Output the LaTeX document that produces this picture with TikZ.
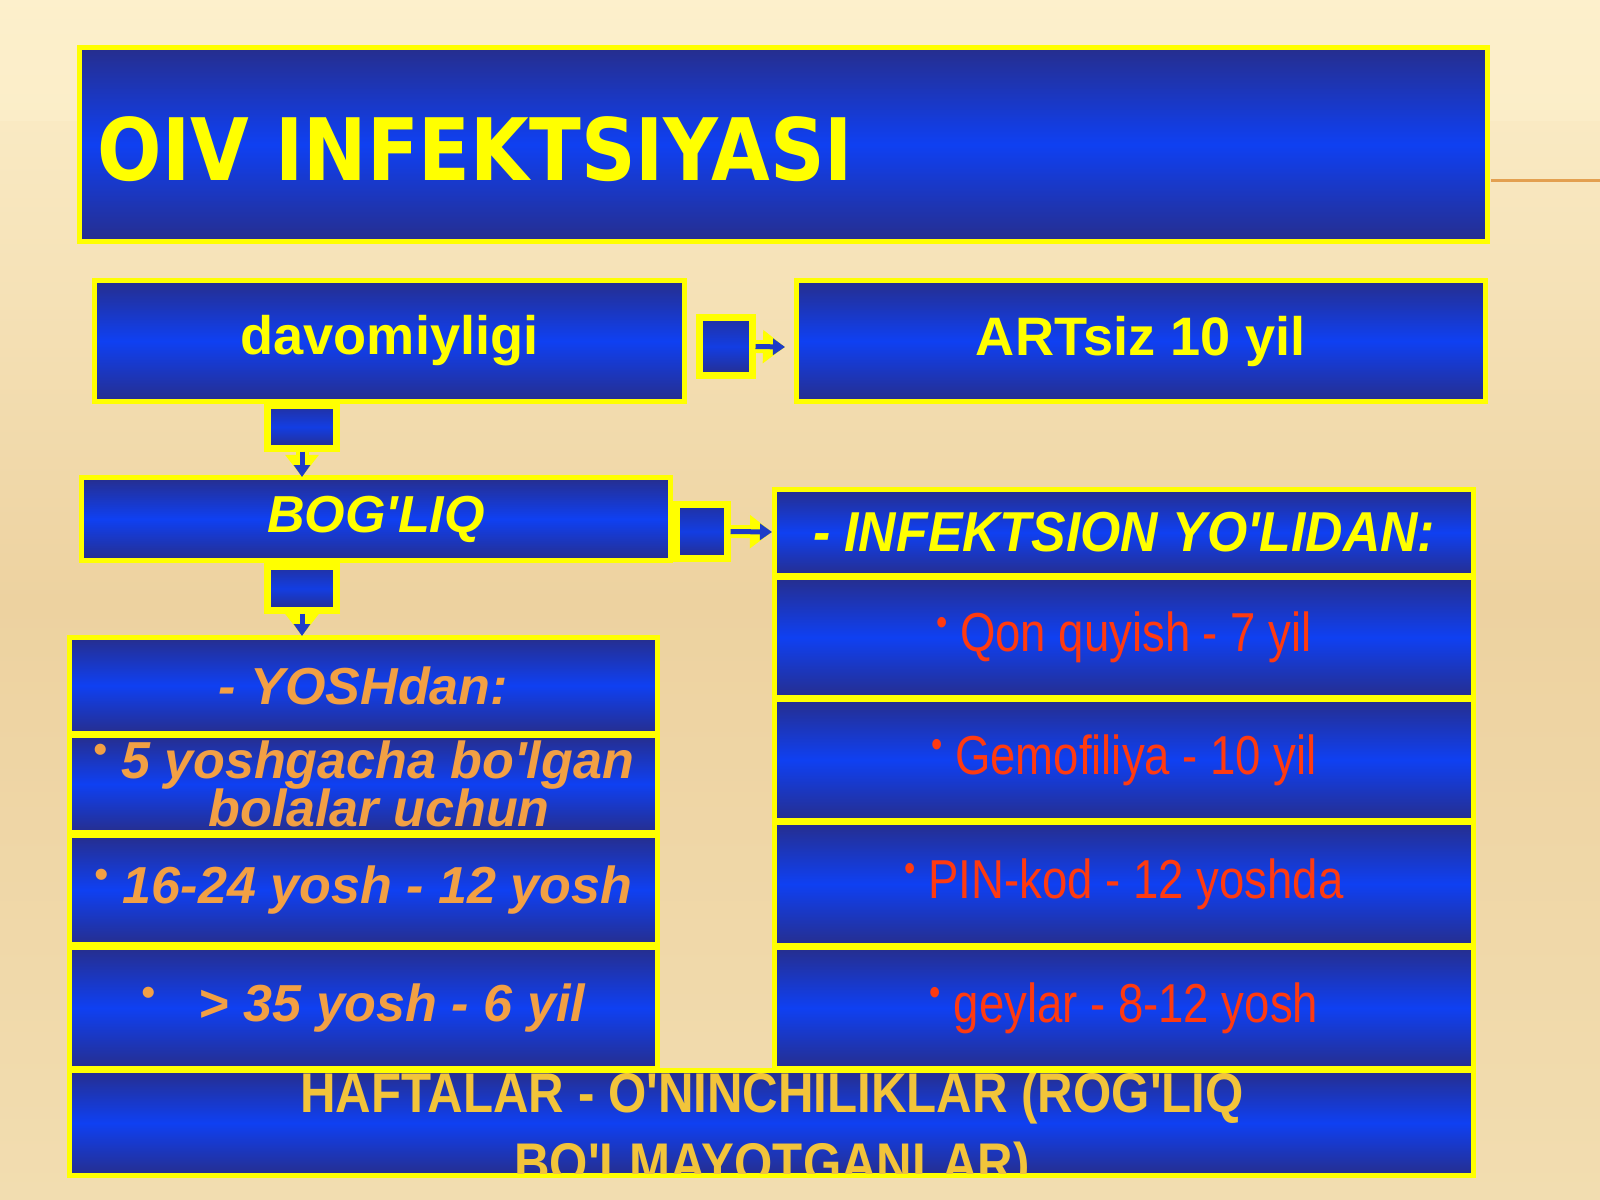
\documentclass[tikz,border=0pt]{standalone}
\usepackage{fontspec}
\setmainfont{Liberation Sans}
\newfontfamily\basefont{Liberation Sans}
\newfontfamily\titlefont[FakeStretch=0.88]{DejaVu Sans}
\newfontfamily\narrowfont[FakeStretch=0.83]{Liberation Sans}
\newfontfamily\narrowbold[FakeStretch=0.92]{Liberation Sans}
\newfontfamily\hafont[FakeStretch=0.88]{Liberation Sans}
\usetikzlibrary{arrows.meta}
\definecolor{bgtop}{HTML}{FDF0CC}
\definecolor{bgmid}{HTML}{EDD2A0}
\definecolor{bgbot}{HTML}{F2DDB0}
\definecolor{boxdark}{HTML}{262E8E}
\definecolor{boxbright}{HTML}{0F40F2}
\definecolor{yel}{HTML}{FFFF00}
\definecolor{orng}{HTML}{F2A044}
\definecolor{redt}{HTML}{FF3A10}
\definecolor{goldt}{HTML}{F2C43A}
\definecolor{stemblue}{HTML}{1E3CC8}
\definecolor{linorange}{HTML}{E3A050}
\newcommand{\bul}{\raisebox{0.3em}{\fontsize{11pt}{11pt}\selectfont •}}
\begin{document}
\begin{tikzpicture}[x=0.01cm,y=-0.01cm,
  box/.style={draw=yel, line width=0.05cm, top color=boxdark, bottom color=boxdark,
    middle color=boxbright, inner sep=0pt, align=center},
  sq/.style={draw=yel, line width=0.07cm, top color=boxdark!80!boxbright, bottom color=boxdark,
    middle color=boxbright!85!boxdark, inner sep=0pt},
  glow/.style={draw=yel, line width=0.13cm, -{Triangle[length=0.22cm,width=0.32cm]}},
  stem/.style={draw=stemblue, line width=0.05cm, -{Triangle[length=0.12cm,width=0.16cm]}},
  headtxt/.style={text=yel, font=\basefont\bfseries\fontsize{15.4pt}{16pt}\selectfont},
  yoshtxt/.style={text=orng, font=\basefont\bfseries\itshape\fontsize{14.8pt}{13.8pt}\selectfont},
  redtxt/.style={text=redt, font=\narrowfont\fontsize{15.6pt}{16pt}\selectfont},
]
\useasboundingbox (0,0) rectangle (1600,1200);
\shade[top color=bgtop, bottom color=bgbot, middle color=bgmid] (0,0) rectangle (1600,1200);
\shade[top color=bgtop, bottom color=bgtop, middle color=bgtop, opacity=0.6] (0,0) rectangle (1600,120);

% orange rule at right
\coordinate (rl1) at (1491,180);
\coordinate (rl2) at (1600,180);
\draw[linorange, line width=0.03cm] (rl1) -- (rl2);

% title
\node[box, minimum width=14.07cm, minimum height=1.93cm] (title) at (783.5,144.5) {};
\node[anchor=base west, inner sep=0pt, text=yel, font=\titlefont\bfseries\fontsize{24.5pt}{26pt}\selectfont] (titletxt) at (97,180) {OIV INFEKTSIYASI};

% row 1
\node[box, headtxt, minimum width=5.89cm, minimum height=1.20cm] (dav) at (389.5,341) {davomiyligi};
\node[box, headtxt, minimum width=6.88cm, minimum height=1.20cm] (art) at (1141,341) {ARTsiz 10 yil};

% BOG'LIQ
\node[box, text=yel, font=\basefont\bfseries\itshape\fontsize{14.8pt}{16pt}\selectfont, minimum width=5.88cm, minimum height=0.82cm] (bog) at (376,519) {BOG'LIQ};

% right column
\node[box, text=yel, font=\narrowbold\bfseries\itshape\fontsize{16pt}{17pt}\selectfont, minimum width=6.98cm, minimum height=0.85cm] (inf) at (1124,532.5) {- INFEKTSION YO'LIDAN:};
\node[box, redtxt, minimum width=6.98cm, minimum height=1.19cm] (qon) at (1124,637.5) {\bul\ Qon quyish - 7 yil};
\node[box, redtxt, minimum width=6.98cm, minimum height=1.20cm] (gem) at (1124,760) {\bul\ Gemofiliya - 10 yil};
\node[box, redtxt, minimum width=6.98cm, minimum height=1.22cm] (pin) at (1124,884) {\bul\ PIN-kod - 12 yoshda};
\node[box, redtxt, minimum width=6.98cm, minimum height=1.20cm] (gey) at (1124,1008) {\bul\ geylar - 8-12 yosh};

% left column
\node[box, yoshtxt, minimum width=5.87cm, minimum height=0.95cm] (yosh) at (363.5,685.5) {- YOSHdan:};
\node[box, yoshtxt, minimum width=5.87cm, minimum height=0.96cm] (five) at (363.5,784) {\bul\ 5 yoshgacha bo'lgan\\\hspace*{0.6em}bolalar uchun};
\node[box, yoshtxt, minimum width=5.87cm, minimum height=1.08cm] (s16) at (363.5,890) {\bul\ 16-24 yosh - 12 yosh};
\node[box, yoshtxt, minimum width=5.87cm, minimum height=1.20cm] (s35) at (363.5,1008) {\bul\ \ \ > 35 yosh - 6 yil};

% bottom box
\node[box, minimum width=14.03cm, minimum height=1.04cm] (haf) at (771.5,1123) {};
\begin{scope}
\clip (72,1073) rectangle (1471,1173);
\node[anchor=base, inner sep=0pt, text=goldt, font=\hafont\bfseries\fontsize{15.9pt}{17pt}\selectfont] (hafa) at (772,1112) {HAFTALAR - O'NINCHILIKLAR (ROG'LIQ};
\node[anchor=base, inner sep=0pt, text=goldt, font=\hafont\bfseries\fontsize{15.9pt}{17pt}\selectfont] (hafb) at (772,1182) {BO'LMAYOTGANLAR)};
\end{scope}

% block arrows
\node[sq, minimum width=0.52cm, minimum height=0.57cm] (a1) at (726,346.5) {};
\coordinate (a1t) at (785,347);
\draw[glow] (a1.east) -- (a1t);
\draw[stem] (a1.east) -- (a1t);

\node[sq, minimum width=0.50cm, minimum height=0.53cm] (a2) at (702,531.5) {};
\coordinate (a2t) at (772,532);
\draw[glow] (a2.east) -- (a2t);
\draw[stem] (a2.east) -- (a2t);

\node[sq, minimum width=0.68cm, minimum height=0.42cm] (d1) at (302,427) {};
\coordinate (d1t) at (302,477);
\draw[glow] (d1.south) -- (d1t);
\draw[stem] (d1.south) -- (d1t);

\node[sq, minimum width=0.68cm, minimum height=0.43cm] (d2) at (302,588.5) {};
\coordinate (d2t) at (302,636);
\draw[glow] (d2.south) -- (d2t);
\draw[stem] (d2.south) -- (d2t);
\end{tikzpicture}
\end{document}
